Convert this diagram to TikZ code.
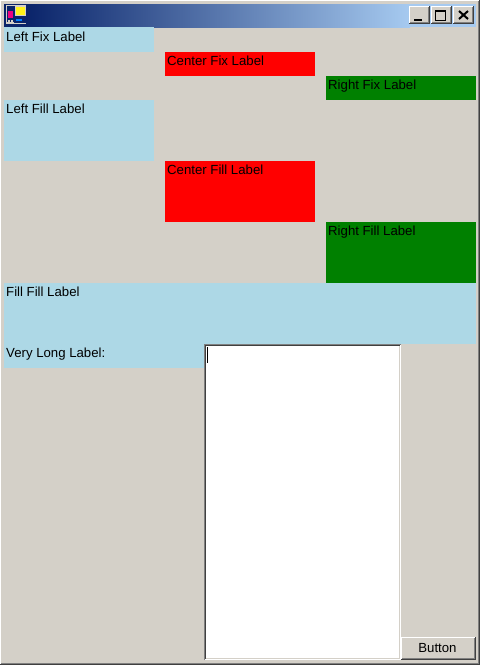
\documentclass[tikz,border=0pt]{standalone}
\usepackage{fontspec}
\setmainfont{Liberation Sans}
\definecolor{face}{RGB}{212,208,200}
\definecolor{lblue}{RGB}{173,216,230}
\definecolor{lred}{RGB}{255,0,0}
\definecolor{lgreen}{RGB}{0,128,0}
\definecolor{tbdark}{RGB}{10,36,106}
\definecolor{tblight}{RGB}{166,202,240}
\definecolor{edgegray}{RGB}{128,128,128}
\definecolor{edgedark}{RGB}{64,64,64}
\tikzset{
  x=1pt,y=-1pt,
  lbl/.style={font=\fontsize{13.2}{15}\selectfont,text=black,anchor=base west,inner sep=0pt},
  hi/.style={draw=white,line width=1pt},
  sh/.style={draw=edgegray,line width=1pt},
  dk/.style={draw=edgedark,line width=1pt},
  glyph/.style={draw=black,line width=2pt},
}
\newcommand{\lab}[8]{% name, x0,y0,x1,y1, colour, text, baseline offset
  \fill[#6] (#2,#3) rectangle (#4,#5);
  \node[lbl] (#1) at (#2+2,#3+#8) {#7};
}
\newcommand{\winbtn}[2]{% x0, y0
  \fill[face] (#1,#2) rectangle ++(20.5,18);
  \draw[hi] (#1+.5,#2+18) -- (#1+.5,#2+.5) -- (#1+20.5,#2+.5);
  \draw[dk] (#1,#2+17.5) -- (#1+20,#2+17.5) -- (#1+20,#2);
  \draw[sh] (#1+1,#2+16.5) -- (#1+19,#2+16.5) -- (#1+19,#2+1);
}
\begin{document}
\begin{tikzpicture}
\useasboundingbox (0,0) rectangle (480,665);
% window frame
\fill[face] (0,0) rectangle (480,665);
\draw[hi] (.5,665) -- (.5,.5) -- (480,.5);
\draw[dk] (0,664.5) -- (479.5,664.5) -- (479.5,0);
\draw[sh] (1,663.5) -- (478.5,663.5) -- (478.5,1);
% title bar
\fill[tbdark] (4,4) rectangle (27,27);
\fill[tblight] (409,4) rectangle (476,27);
\shade[left color=tbdark,right color=tblight] (26,4) rectangle (410,27);
% icon
\fill[face] (6,5) rectangle (26,24);
\fill[tbdark] (7,6) rectangle (14,22);
\fill[magenta!90!red] (8,11) rectangle (12.5,18);
\fill[tbdark] (14,6) rectangle (26,23);
\fill[face] (15,6) rectangle (26,16);
\fill[yellow!90!white] (16,7) rectangle (25,15);
\fill[blue!50!cyan] (16,18.5) rectangle (22,21);
\fill[face] (8,20) rectangle (10,22);
\fill[face] (11,20) rectangle (13,22);
% caption buttons
\winbtn{409}{6}
\winbtn{431}{6}
\winbtn{453}{6}
\draw[glyph] (414,20) -- (422,20);
\draw[draw=black,line width=1pt] (435,10.5) rectangle (445.5,20.5);
\draw[draw=black,line width=1pt] (435,11.5) -- (445.5,11.5);
\draw[glyph] (459,11) -- (468,19);
\draw[glyph] (468,11) -- (459,19);
% labels
\lab{leftfix}{4}{27}{154}{52}{lblue}{Left Fix Label}{14}
\lab{centerfix}{165}{52}{315}{76}{lred}{Center Fix Label}{13.5}
\lab{rightfix}{326}{76}{476}{100}{lgreen}{Right Fix Label}{13.5}
\lab{leftfill}{4}{100}{154}{161}{lblue}{Left Fill Label}{13.5}
\lab{centerfill}{165}{161}{315}{222}{lred}{Center Fill Label}{13.5}
\lab{rightfill}{326}{222}{476}{283}{lgreen}{Right Fill Label}{13.5}
\lab{fillfill}{4}{283}{476}{344}{lblue}{Fill Fill Label}{13.5}
\lab{verylong}{4}{344}{204.5}{368}{lblue}{Very Long Label:}{13}
% text box
\fill[white] (204.5,344.5) rectangle (401,660);
\draw[sh] (204.5,660) -- (204.5,344.5) -- (401,344.5);
\draw[dk] (205.5,659) -- (205.5,345.5) -- (400,345.5);
\draw[draw=face,line width=1pt] (205.5,658.5) -- (399.5,658.5) -- (399.5,346);
\draw[hi] (204.5,659.5) -- (400.5,659.5) -- (400.5,344.5);
\draw[draw=black,line width=1pt] (207.5,347) -- (207.5,363);
% button
\fill[face] (401,637) rectangle (476,660);
\draw[hi] (401.5,660) -- (401.5,637.5) -- (476,637.5);
\draw[dk] (401,659.5) -- (475.5,659.5) -- (475.5,637);
\draw[sh] (402,658.5) -- (474.5,658.5) -- (474.5,638);
\node[font=\fontsize{13.2}{15}\selectfont,text=black,inner sep=0pt] (button) at (437.5,648.5) {Button};
\end{tikzpicture}
\end{document}
